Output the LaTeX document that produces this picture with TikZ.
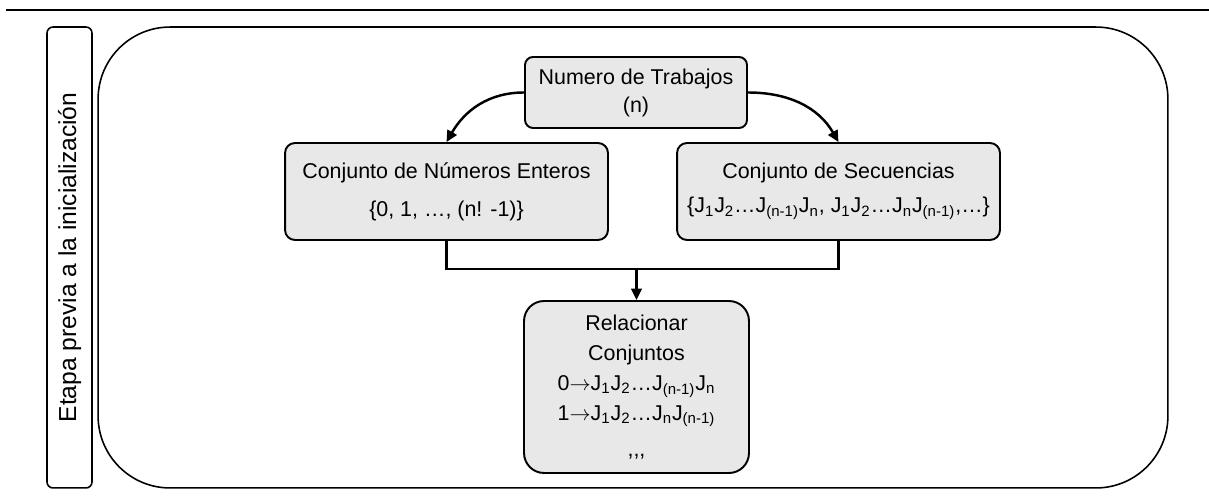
\documentclass[tikz,border=0pt]{standalone}
\usepackage{fontspec}
\setmainfont{Liberation Sans}
\usetikzlibrary{arrows.meta}

\definecolor{cajagris}{RGB}{232,232,232}
\newcommand{\Jsub}[1]{J\textsubscript{#1}}
\newcommand{\flechita}{$\rightarrow$}
\tikzset{
  caja/.style={draw, fill=cajagris, line width=1.1pt, align=center, inner sep=0pt,
    font=\fontsize{12.2}{15.9}\selectfont},
  marco/.style={draw, line width=0.9pt},
  flecha/.style={line width=1.4pt, -{Triangle[length=6.5pt, width=6pt]}},
}

\begin{document}
\begin{tikzpicture}[x=0.02cm, y=0.02cm]
\useasboundingbox (0,0) rectangle (1209,-502);
%top rule and frames:
\coordinate (reglaA) at (6,-10);
\coordinate (reglaB) at (1209,-10);
\draw[line width=1.4pt] (reglaA) -- (reglaB);
\node[marco, rounded corners=0.12cm, minimum width=9.22cm, minimum height=0.9cm, rotate=90,
  font=\fontsize{14}{16}\selectfont] (etapa) at (69.5,-257.5) {Etapa previa a la inicialización};
\node[marco, rounded corners=1.44cm, minimum width=21.4cm, minimum height=9.22cm] (fondo) at (633,-257.5) {};

%boxes:
\node[caja, rounded corners=0.16cm, minimum width=4.44cm, minimum height=1.42cm] (trabajos) at (636,-92.5)
  {Numero de Trabajos\\(n)};
\node[caja, rounded corners=0.2cm, minimum width=6.46cm, minimum height=1.94cm] (enteros) at (446.5,-191.5)
  {Conjunto de Números Enteros\\[5.7pt]\{0, 1, …, (n! -1)\}};
\node[caja, rounded corners=0.2cm, minimum width=6.46cm, minimum height=1.94cm] (secuencias) at (838.5,-191.5)
  {Conjunto de Secuencias\\[3.4pt]\{\Jsub{1}\Jsub{2}…\Jsub{(n-1)}\Jsub{n}, \Jsub{1}\Jsub{2}…\Jsub{n}\Jsub{(n-1)},…\}};
\node[caja, rounded corners=0.4cm, minimum width=4.5cm, minimum height=3.44cm] (relacionar) at (636.5,-387)
  {Relacionar\\[1.1pt]Conjuntos\\[1.1pt]0\flechita\Jsub{1}\Jsub{2}…\Jsub{(n-1)}\Jsub{n}\\[1.1pt]1\flechita\Jsub{1}\Jsub{2}…\Jsub{n}\Jsub{(n-1)}\\[4.5pt],{},{},};

%connectors:
\coordinate (union) at (636.5,-269);
\draw[flecha] (trabajos.west) to[out=180, in=60] (enteros.north);
\draw[flecha] (trabajos.east) to[out=0, in=120] (secuencias.north);
\draw[line width=1.4pt] (enteros.south) |- (union) -| (secuencias.south);
\draw[flecha] (union) -- (relacionar.north);
\end{tikzpicture}
\end{document}
